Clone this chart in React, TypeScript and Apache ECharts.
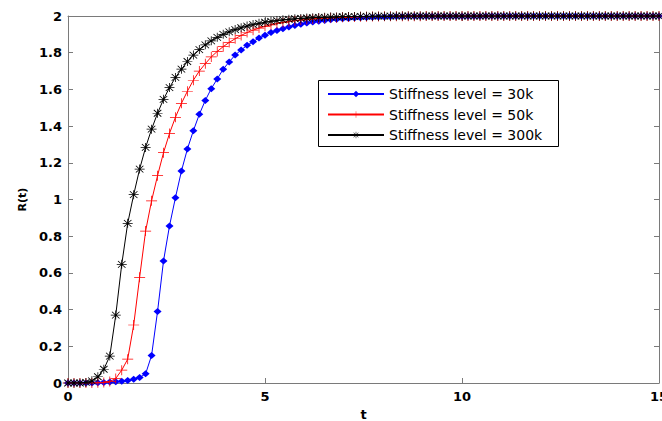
import React, { useEffect, useRef } from "react";
import * as echarts from "echarts";

// Sample times (t)
const T = [
  0, 0.152, 0.303, 0.455, 0.606, 0.758, 0.909, 1.061, 1.212, 1.364,
  1.515, 1.667, 1.818, 1.97, 2.121, 2.273, 2.424, 2.576, 2.727, 2.879,
  3.03, 3.182, 3.333, 3.485, 3.636, 3.788, 3.939, 4.091, 4.242, 4.394,
  4.545, 4.697, 4.848, 5.0, 5.152, 5.303, 5.455, 5.606, 5.758, 5.909,
  6.061, 6.212, 6.364, 6.515, 6.667, 6.818, 6.97, 7.121, 7.273, 7.424,
  7.576, 7.727, 7.879, 8.03, 8.182, 8.333, 8.485, 8.636, 8.788, 8.939,
  9.091, 9.242, 9.394, 9.545, 9.697, 9.848, 10.0, 10.152, 10.303, 10.455,
  10.606, 10.758, 10.909, 11.061, 11.212, 11.364, 11.515, 11.667, 11.818, 11.97,
  12.121, 12.273, 12.424, 12.576, 12.727, 12.879, 13.03, 13.182, 13.333, 13.485,
  13.636, 13.788, 13.939, 14.091, 14.242, 14.394, 14.545, 14.697, 14.848, 15.0,
];

const R_30K = [
  0, 0, 0, 0, 0, 0.002, 0.003, 0.005, 0.007, 0.01,
  0.013, 0.02, 0.03, 0.05, 0.15, 0.39, 0.665, 0.856, 1.01, 1.155,
  1.275, 1.375, 1.464, 1.54, 1.604, 1.657, 1.71, 1.75, 1.787, 1.815,
  1.84, 1.86, 1.88, 1.895, 1.91, 1.921, 1.931, 1.94, 1.948, 1.955,
  1.962, 1.967, 1.972, 1.976, 1.979, 1.982, 1.985, 1.987, 1.989, 1.991,
  1.992, 1.993, 1.994, 1.995, 1.996, 1.997, 1.997, 1.998, 1.998, 1.998,
  1.999, 1.999, 1.999, 1.999, 1.999, 1.999, 1.999, 1.999, 1.999, 1.999,
  2, 2, 2, 2, 2, 2, 2, 2, 2, 2,
  2, 2, 2, 2, 2, 2, 2, 2, 2, 2,
  2, 2, 2, 2, 2, 2, 2, 2, 2, 2,
];

const R_50K = [
  0, 0, 0, 0, 0, 0.001, 0.003, 0.008, 0.025, 0.07,
  0.13, 0.316, 0.576, 0.828, 0.993, 1.13, 1.255, 1.36, 1.448, 1.524,
  1.59, 1.65, 1.7, 1.74, 1.777, 1.807, 1.833, 1.856, 1.876, 1.894,
  1.91, 1.923, 1.934, 1.944, 1.952, 1.959, 1.965, 1.97, 1.974, 1.978,
  1.981, 1.984, 1.986, 1.988, 1.99, 1.991, 1.993, 1.994, 1.995, 1.996,
  1.996, 1.997, 1.997, 1.998, 1.998, 1.999, 1.999, 1.999, 1.999, 1.999,
  2, 2, 2, 2, 2, 2, 2, 2, 2, 2,
  2, 2, 2, 2, 2, 2, 2, 2, 2, 2,
  2, 2, 2, 2, 2, 2, 2, 2, 2, 2,
  2, 2, 2, 2, 2, 2, 2, 2, 2, 2,
];

const R_300K = [
  0, 0, 0, 0.003, 0.012, 0.034, 0.075, 0.147, 0.37, 0.647,
  0.87, 1.026, 1.166, 1.284, 1.383, 1.47, 1.546, 1.61, 1.665, 1.71,
  1.752, 1.787, 1.817, 1.843, 1.865, 1.884, 1.9, 1.914, 1.926, 1.936,
  1.945, 1.953, 1.96, 1.966, 1.971, 1.975, 1.979, 1.982, 1.985, 1.987,
  1.989, 1.991, 1.992, 1.993, 1.994, 1.995, 1.996, 1.997, 1.997, 1.998,
  1.998, 1.999, 1.999, 1.999, 1.999, 2, 2, 2, 2, 2,
  2, 2, 2, 2, 2, 2, 2, 2, 2, 2,
  2, 2, 2, 2, 2, 2, 2, 2, 2, 2,
  2, 2, 2, 2, 2, 2, 2, 2, 2, 2,
  2, 2, 2, 2, 2, 2, 2, 2, 2, 2,
];

const SERIES_NAMES = [
  "Stiffness level = 30k",
  "Stiffness level = 50k",
  "Stiffness level = 300k",
];
const SERIES_VALUES = [R_30K, R_50K, R_300K];
const SERIES_COLORS = ["#0000ff", "#ff0000", "#000000"];

const X_NAME = "t";
const Y_NAME = "R(t)";

const PLUS = "path://M9.3,0H10.7V9.3H20V10.7H10.7V20H9.3V10.7H0V9.3H9.3Z";
const STAR =
  "path://M0,9.2H20V10.8H0Z M9.2,0H10.8V20H9.2Z M3.1,1.9L18.1,16.9L16.9,18.1L1.9,3.1Z M16.9,1.9L18.1,3.1L3.1,18.1L1.9,16.9Z";
const SYMBOLS = ["diamond", PLUS, STAR];
const SYMBOL_SIZES: any[] = [[8, 7], [11, 10], [10, 9]];

const AXIS_GRAY = "#7a7a7a";
const TICK_FONT = {
  color: "#000",
  fontFamily: "DejaVu Sans",
  fontWeight: "bold" as const,
  fontSize: 13,
};

export default function App() {
  const ref = useRef<HTMLDivElement>(null);
  useEffect(() => {
    document.body.style.margin = "0";
    if (!ref.current) return;
    const chart = echarts.init(ref.current, null, { renderer: "svg" });
    const axisCommon = {
      axisLine: { show: true, onZero: false, lineStyle: { color: AXIS_GRAY, width: 1 } },
      axisTick: { show: true, inside: true, length: 5, lineStyle: { color: AXIS_GRAY } },
      splitLine: { show: false },
    };
    const option: any = {
      animation: false,
      backgroundColor: "#ffffff",
      grid: {
        left: 68,
        top: 16,
        right: 3,
        bottom: 38,
        containLabel: false,
        outerBoundsMode: "none",
      },
      xAxis: [
        {
          type: "value",
          min: 0,
          max: 15,
          interval: 5,
          name: X_NAME,
          nameLocation: "middle",
          nameGap: 23,
          nameTextStyle: { ...TICK_FONT },
          axisLabel: { ...TICK_FONT, margin: 7 },
          ...axisCommon,
        },
        {
          type: "value",
          position: "top",
          min: 0,
          max: 15,
          interval: 5,
          axisLabel: { show: false },
          ...axisCommon,
        },
      ],
      yAxis: [
        {
          type: "value",
          min: 0,
          max: 2,
          interval: 0.2,
          name: Y_NAME,
          nameLocation: "middle",
          nameGap: 33,
          nameTextStyle: { ...TICK_FONT, fontSize: 11 },
          axisLabel: { ...TICK_FONT, margin: 6 },
          ...axisCommon,
        },
        {
          type: "value",
          position: "right",
          min: 0,
          max: 2,
          interval: 0.2,
          axisLabel: { show: false },
          ...axisCommon,
        },
      ],
      legend: {
        orient: "vertical",
        left: 327,
        top: 87,
        itemWidth: 56,
        itemHeight: 8,
        itemGap: 6.5,
        padding: 0,
        z: 10,
        textStyle: { color: "#000", fontFamily: "DejaVu Sans", fontSize: 14 },
        data: SERIES_NAMES,
      },
      graphic: [
        {
          type: "rect",
          z: 5,
          shape: { x: 318.5, y: 80.5, width: 240, height: 66 },
          style: { fill: "#ffffff", stroke: "#000000", lineWidth: 1 },
        },
      ],
      series: SERIES_NAMES.map((name, i) => ({
        name,
        type: "line",
        xAxisIndex: 0,
        yAxisIndex: 0,
        data: T.map((t, k) => [t, SERIES_VALUES[i][k]]),
        symbol: SYMBOLS[i],
        symbolSize: SYMBOL_SIZES[i],
        showAllSymbol: true,
        color: SERIES_COLORS[i],
        itemStyle: { color: SERIES_COLORS[i] },
        lineStyle: { color: SERIES_COLORS[i], width: 1 },
        z: 2 + i,
      })),
    };
    chart.setOption(option);
    return () => chart.dispose();
  }, []);
  return <div ref={ref} style={{ width: 662, height: 421 }} />;
}
